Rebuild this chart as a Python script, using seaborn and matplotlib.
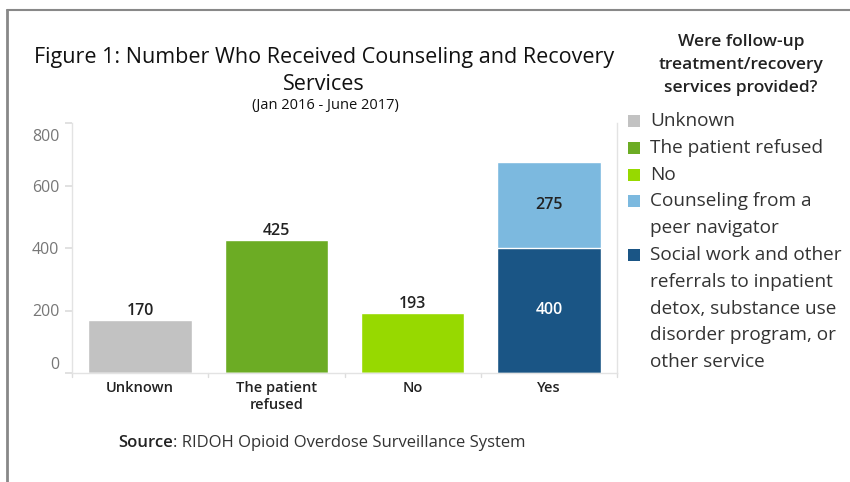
import matplotlib
matplotlib.use("Agg")
import matplotlib.pyplot as plt
import matplotlib.transforms as mtransforms
import seaborn as sns
import pandas as pd
from matplotlib.lines import Line2D
from matplotlib.patches import Rectangle

# Data
categories = ["Unknown", "The patient\nrefused", "No", "Yes"]
totals = [170, 425, 193, 675]
yes_referrals = 400
yes_peer = 275
y_ticks = [0, 200, 400, 600, 800]

legend_labels = [
    "Unknown",
    "The patient refused",
    "No",
    "Counseling from a\npeer navigator",
    "Social work and other\nreferrals to inpatient\ndetox, substance use\ndisorder program, or\nother service",
]
colors = ["#c2c2c2", "#6cac24", "#97d900", "#7cb9df", "#1a5585"]

W, H = 850, 482

sns.set_theme(style="white")
plt.rcParams["font.family"] = ["Open Sans", "DejaVu Sans"]

fig = plt.figure(figsize=(8.5, 4.82), dpi=100)
ax = fig.add_axes([72 / W, 1 - 373 / H, (617 - 72) / W, 250 / H])


def fy(px):
    # pixel row from the top -> figure fraction
    return 1 - px / H


df_total = pd.DataFrame({"category": categories, "value": totals})
df_base = pd.DataFrame({"category": categories,
                        "value": [0, 0, 0, yes_referrals]})

# totals first (the Yes total takes the peer-navigator colour), then the
# referrals part drawn over it for Yes
sns.barplot(data=df_total, x="category", y="value", hue="category",
            palette=colors[:4], width=0.76, legend=False, ax=ax,
            saturation=1)
sns.barplot(data=df_base, x="category", y="value", color=colors[4],
            width=0.76, ax=ax, saturation=1)

# value labels
for i, v in enumerate(totals[:3]):
    ax.text(i, v + 3, str(v), ha="center", va="bottom", fontsize=11.5,
            color="#222222", fontweight="semibold")
ax.text(3, yes_referrals + yes_peer / 2, str(yes_peer), ha="center",
        va="center", fontsize=11.5, color="#222222", fontweight="semibold")
ax.text(3, yes_referrals / 2, str(yes_referrals), ha="center", va="center",
        fontsize=11.5, color="white", fontweight="semibold")

ax.set_ylim(0, 800)
ax.set_xlim(-0.5, 3.5)
ax.set_yticks(y_ticks)
ax.set_xlabel("")
ax.set_ylabel("")
ax.tick_params(axis="y", labelsize=11.5, labelcolor="#777777", length=5,
               color="#dddddd", left=True, pad=4)
ax.tick_params(axis="x", labelsize=10.5, labelcolor="#222222", length=0,
               pad=6)
for lbl in ax.get_xticklabels():
    lbl.set_fontweight("semibold")
# end labels are pulled inside the pane, as in the original
ylbls = ax.get_yticklabels()
ylbls[0].set_va("bottom")
ylbls[-1].set_transform(ylbls[-1].get_transform() + mtransforms.ScaledTranslation(
    0, -12 / 100, fig.dpi_scale_trans))
for side in ["left", "bottom", "right"]:
    ax.spines[side].set_color("#e3e3e3")
    ax.spines[side].set_linewidth(1)
ax.spines["top"].set_visible(False)

# category separators below the axis
for xs in [-0.5, 0.5, 1.5, 2.5, 3.5]:
    ax.plot([xs, xs], [0, -12], color="#dddddd", lw=1, clip_on=False)

# titles
fig.text(324 / W, fy(57),
         "Figure 1: Number Who Received Counseling and Recovery",
         ha="center", va="center", fontsize=15.5, color="#111111")
fig.text(324 / W, fy(84), "Services", ha="center", va="center",
         fontsize=15.5, color="#111111")
fig.text(325 / W, fy(105), "(Jan 2016 - June 2017)", ha="center",
         va="center", fontsize=10.5, color="#111111")

# legend, drawn by hand so the swatch sits on the first line
for k, line in enumerate(["Were follow-up", "treatment/recovery",
                          "services provided?"]):
    fig.text(741 / W, fy(42 + 23 * k), line, ha="center", va="center",
             fontsize=12.5, fontweight="semibold", color="#222222")

row = 0
for lab, c in zip(legend_labels, colors):
    y0 = 121 + 26.8 * row
    fig.add_artist(Rectangle((628 / W, fy(y0 + 6)), 12 / W, 12 / H,
                             facecolor=c, edgecolor="none",
                             transform=fig.transFigure))
    for line in lab.split("\n"):
        fig.text(650 / W, fy(121 + 26.8 * row), line, ha="left",
                 va="center", fontsize=13.7, color="#333333")
        row += 1

# source line: bold "Source" then the rest right after it
src = fig.text(118 / W, fy(443), "Source", ha="left", va="center",
               fontsize=12, fontweight="semibold", color="#222222")
fig.canvas.draw()
bb = src.get_window_extent()
fig.text(bb.x1 / W, fy(443), ": RIDOH Opioid Overdose Surveillance System",
         ha="left", va="center", fontsize=12, color="#333333")

# outer frame (top and left edges)
fig.add_artist(Line2D([7 / W, 1], [fy(10), fy(10)], color="#888888",
                      lw=1.5))
fig.add_artist(Line2D([7 / W, 7 / W], [0, fy(10)], color="#888888", lw=2))

fig.savefig("out.png", dpi=100)
